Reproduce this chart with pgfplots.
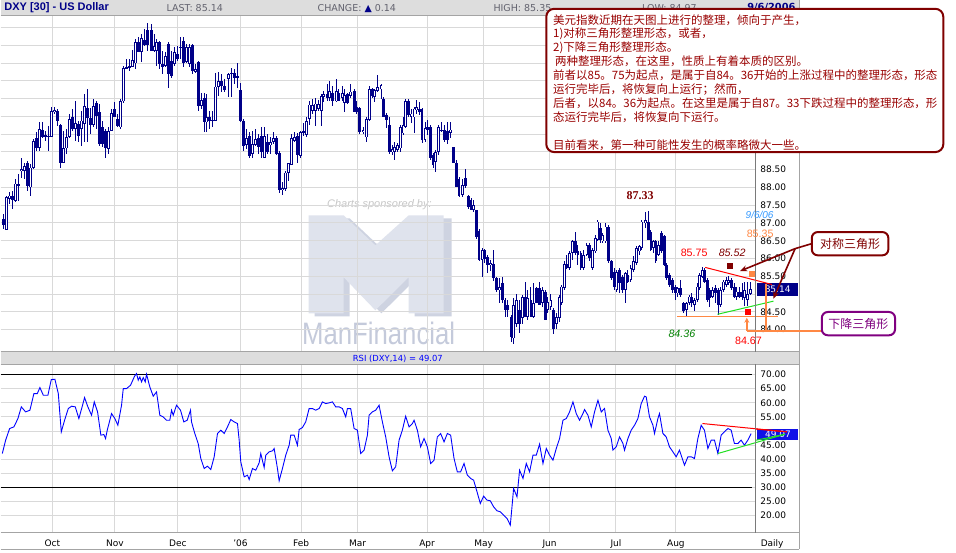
\documentclass[border=0pt]{standalone}
\usepackage{pgfplots}
\pgfplotsset{compat=1.18}
\usepackage{pgfplotstable}
\usepackage{fontspec}
\setmainfont{DejaVu Sans}
\newfontfamily\arialf{Liberation Sans}
\newfontfamily\timesf{Liberation Serif}
\newfontfamily\cjk{Noto Sans CJK SC}
\usetikzlibrary{arrows.meta}

\definecolor{navy}{HTML}{000088}
\definecolor{gridc}{HTML}{D9D9D9}
\definecolor{band}{HTML}{DDDDDD}
\definecolor{framec}{HTML}{A4A4A4}
\definecolor{axc}{HTML}{7A7A7A}
\definecolor{maroon}{HTML}{800000}
\definecolor{txtred}{HTML}{990000}
\definecolor{orng}{HTML}{FF8844}
\definecolor{lgreen}{HTML}{22E022}
\definecolor{purp}{HTML}{800080}
\definecolor{wm}{HTML}{DFE3ED}
\definecolor{wmshade}{HTML}{CED3E1}
\definecolor{wmtext}{HTML}{C4CADB}
\definecolor{hdrgray}{HTML}{62626E}
\definecolor{rsiblue}{HTML}{0000FF}
\definecolor{rsibox}{HTML}{1010E8}
\definecolor{skyblue}{HTML}{3399FF}

% daily candles: x = pixel position, open high low close
\pgfplotstableread{
x o h l c
2.7 87.11 87.25 86.83 86.95
5.7 86.80 87.76 86.79 87.74
9.0 87.67 87.86 87.53 87.77
11.7 87.77 87.91 87.39 87.65
15.0 87.63 88.24 87.58 88.11
17.7 88.11 88.38 87.63 88.05
21.0 88.47 88.84 88.28 88.52
23.7 88.47 88.70 88.24 88.61
26.7 88.70 88.75 87.91 88.05
30.0 88.00 88.66 87.77 88.56
33.0 88.54 89.36 88.52 89.30
35.7 89.39 89.55 89.03 89.11
39.0 89.11 89.83 89.03 89.64
41.7 89.61 89.83 89.39 89.41
44.7 89.48 89.59 89.31 89.43
47.7 89.43 89.74 89.03 89.45
50.7 89.43 90.27 89.41 90.14
53.7 90.13 90.27 90.06 90.18
56.7 90.14 90.20 89.74 89.88
60.0 89.75 89.78 88.56 88.70
63.3 88.70 89.59 88.70 89.10
66.0 89.10 89.64 88.94 89.43
69.0 89.43 90.06 89.39 89.92
72.0 89.97 90.20 89.59 89.64
75.0 89.64 90.44 89.31 89.80
78.0 89.78 89.88 89.27 89.45
81.0 89.64 90.16 89.17 89.88
83.7 89.78 90.63 89.27 90.30
86.7 90.25 90.77 89.27 89.95
90.0 89.95 90.25 89.50 89.75
93.0 89.75 90.48 89.69 90.30
96.0 90.39 90.44 89.64 90.02
99.0 90.11 90.34 89.17 89.22
102.0 89.69 89.88 89.13 89.22
105.0 89.59 89.64 88.84 89.10
108.0 89.08 89.69 88.94 89.59
111.0 89.59 90.20 89.59 90.09
114.0 90.20 90.39 89.97 89.97
117.0 89.92 90.06 89.69 89.74
120.0 89.69 90.48 89.64 90.42
123.3 90.42 91.42 90.39 91.36
126.3 91.36 91.61 91.33 91.39
129.3 91.38 91.61 91.28 91.42
132.3 91.39 91.86 91.38 91.58
135.0 91.49 92.17 91.33 92.08
137.7 92.08 92.22 91.80 91.82
141.3 91.82 92.31 91.52 92.20
144.3 92.14 92.45 91.98 92.01
147.3 92.43 92.64 91.84 92.01
150.7 92.43 92.59 91.83 91.84
153.7 91.84 92.31 91.80 91.98
156.3 91.84 92.17 91.42 92.08
159.3 92.08 92.13 91.33 91.47
162.3 91.47 91.84 91.19 91.38
165.3 91.42 91.80 91.38 91.70
168.0 92.05 92.08 90.81 91.19
171.0 91.56 91.84 91.09 91.14
174.0 91.47 91.94 91.42 91.80
177.0 91.75 91.98 91.56 91.61
180.0 91.92 92.22 91.61 91.96
183.0 92.11 92.22 91.38 91.49
186.0 91.52 92.03 91.49 91.94
189.0 91.47 92.05 91.40 91.94
191.7 92.00 92.03 91.19 91.28
195.0 91.26 91.47 91.23 91.33
198.3 91.52 91.56 90.16 90.30
200.7 90.30 90.67 90.20 90.46
203.7 90.51 90.67 89.55 89.83
206.3 89.83 90.63 89.55 89.97
209.3 89.97 90.16 89.64 89.88
212.0 89.88 90.16 89.69 89.90
215.3 89.88 91.23 89.88 90.84
218.3 90.84 91.26 90.58 91.00
221.0 91.00 91.19 90.70 90.86
224.0 90.86 91.05 90.70 90.74
228.0 91.05 91.21 90.54 91.19
231.0 91.19 91.35 90.54 91.23
234.0 91.21 91.33 90.91 91.09
237.0 91.14 91.49 90.79 91.07
240.3 90.74 90.95 89.83 89.86
243.3 89.88 89.93 89.03 89.17
246.0 89.20 89.64 89.08 89.39
249.0 89.45 89.55 88.84 88.89
251.7 88.94 89.59 88.84 89.22
255.0 89.20 89.64 89.17 89.36
257.7 89.39 89.50 88.94 89.13
260.7 89.45 89.69 88.84 88.99
263.7 88.84 89.69 88.82 89.45
266.7 89.27 89.50 88.94 89.00
269.7 89.20 89.41 88.94 89.27
273.0 89.27 89.55 89.22 89.39
276.0 89.39 89.45 88.92 88.94
279.3 88.98 89.03 87.84 87.93
282.3 87.93 88.14 87.80 87.98
285.0 87.95 88.47 87.89 88.42
287.7 88.42 88.70 88.19 88.68
290.7 88.63 89.50 88.63 89.39
293.7 89.31 89.57 89.27 89.43
297.0 89.45 89.52 88.70 88.92
299.7 88.89 89.60 88.84 89.55
302.7 89.55 89.80 89.45 89.58
305.7 89.48 89.97 89.43 89.88
308.7 89.92 90.44 89.77 90.33
311.7 90.16 90.48 90.06 90.33
314.7 90.16 90.53 89.73 90.36
317.7 90.20 90.46 90.16 90.34
320.7 90.16 90.64 89.73 90.58
323.3 90.55 90.72 90.39 90.63
326.7 90.63 90.91 90.44 90.51
329.3 90.51 91.00 90.42 90.72
332.3 90.65 90.86 90.30 90.44
335.7 90.42 91.05 90.39 90.72
338.3 90.67 90.77 90.42 90.42
341.7 90.51 90.86 90.44 90.65
344.3 90.39 90.77 90.11 90.60
347.3 90.62 90.67 90.34 90.39
350.3 90.58 90.91 90.53 90.70
353.7 90.72 90.77 90.11 90.11
356.3 90.25 90.44 90.06 90.11
359.0 90.23 90.27 89.50 89.55
362.7 89.55 89.69 89.50 89.61
366.0 89.41 89.97 89.27 89.92
369.0 89.90 90.86 89.87 90.77
372.3 90.77 90.79 90.53 90.56
374.3 90.55 90.78 90.40 90.74
377.3 90.72 91.16 90.69 90.83
380.7 90.76 90.92 90.50 90.88
383.3 90.50 90.55 89.97 89.99
386.3 90.03 90.10 89.66 89.89
389.3 89.75 89.99 88.95 89.00
392.0 89.00 89.19 88.91 89.07
394.3 89.00 89.28 88.76 89.14
397.3 89.05 89.24 89.00 89.19
400.0 89.10 89.75 89.00 89.71
402.7 89.52 89.99 89.47 89.75
405.3 89.71 90.50 89.66 90.44
408.0 90.44 90.50 89.97 90.03
410.7 89.99 90.22 89.80 90.08
413.7 89.97 90.25 89.52 90.22
416.3 90.17 90.46 90.08 90.25
419.3 90.22 90.41 90.03 90.13
421.7 90.22 90.25 89.26 89.33
424.7 89.33 89.85 89.28 89.66
427.3 89.71 89.89 89.47 89.61
430.0 89.69 89.75 88.76 88.82
432.7 88.91 88.96 88.54 88.63
435.3 88.72 89.05 88.44 89.00
438.3 89.00 89.75 88.91 89.69
441.0 89.59 89.85 89.56 89.63
444.0 89.63 89.75 89.28 89.33
447.0 89.59 89.85 89.22 89.33
450.0 89.54 89.85 89.38 89.63
453.3 89.14 89.15 88.68 88.68
456.0 88.70 88.77 88.02 88.02
458.7 88.25 88.30 87.74 87.76
462.0 87.79 88.25 87.74 88.07
465.0 88.28 88.53 87.99 88.04
468.0 87.76 87.79 87.40 87.46
470.7 87.64 87.69 87.36 87.36
473.3 87.36 87.64 87.30 87.50
476.0 87.36 87.38 86.56 86.61
478.7 86.78 86.83 85.92 85.96
481.7 85.96 86.29 85.49 86.24
484.3 86.24 86.26 85.86 86.00
487.3 86.05 86.09 85.60 85.82
490.3 85.82 85.96 85.66 85.88
493.0 85.86 86.24 85.38 85.44
496.0 85.44 85.48 85.06 85.11
499.0 85.11 85.44 84.74 85.20
502.0 85.30 85.48 84.74 84.83
504.7 84.83 84.88 84.36 84.55
507.3 84.69 84.83 84.36 84.55
510.7 84.36 84.40 83.64 83.80
513.3 83.75 84.88 83.60 84.69
516.3 84.17 85.01 84.08 84.83
519.3 84.55 84.83 83.89 84.17
522.0 84.32 84.97 84.17 84.92
525.0 84.92 85.35 84.36 84.36
527.7 84.36 85.11 84.27 84.88
530.7 84.83 85.20 84.36 84.36
533.3 84.36 85.30 84.32 84.74
536.0 85.16 85.20 84.74 84.74
539.3 85.16 85.35 84.69 84.69
542.0 84.74 85.20 84.64 85.11
545.0 85.07 85.11 84.27 84.27
547.7 84.55 84.92 84.46 84.78
550.7 84.64 85.01 84.55 84.83
553.3 84.55 84.60 83.89 84.03
556.3 84.17 84.46 84.03 84.36
559.0 84.32 84.97 84.22 84.92
561.0 84.74 85.26 84.70 85.21
564.0 85.17 85.92 85.12 85.85
566.7 85.85 86.10 85.70 85.73
569.3 85.73 86.20 85.68 86.15
572.3 86.15 86.53 85.96 86.48
575.0 86.48 86.76 86.10 86.15
577.7 86.20 86.38 85.82 86.10
580.7 86.15 86.20 85.68 85.73
583.3 85.73 86.24 85.68 86.10
586.7 86.10 86.43 86.06 86.38
589.3 86.38 86.43 85.92 86.01
592.0 85.73 86.29 85.68 86.24
595.0 86.20 86.67 86.15 86.57
597.7 86.53 87.09 86.48 87.04
600.0 86.85 86.99 86.43 86.53
602.7 86.48 86.71 86.43 86.67
605.7 86.48 86.99 86.43 86.90
608.3 86.90 86.95 85.87 85.92
611.0 85.92 85.96 85.40 85.45
614.0 85.63 85.73 85.12 85.21
616.7 85.12 85.68 85.07 85.63
619.3 85.68 85.73 85.02 85.31
622.3 85.49 85.54 85.02 85.12
625.0 85.12 85.63 84.74 85.59
627.7 85.54 85.68 85.31 85.35
630.7 85.40 85.82 85.35 85.73
633.3 85.68 86.06 85.63 85.92
636.0 85.87 86.34 85.82 86.29
639.0 86.20 86.38 86.10 86.34
641.7 86.29 87.09 86.24 87.04
645.0 86.99 87.32 86.85 87.09
648.0 87.04 87.35 86.53 86.53
650.7 86.76 86.81 86.20 86.24
653.3 86.29 86.53 86.15 86.48
655.7 86.48 86.53 85.87 85.92
658.3 86.10 86.48 86.06 86.38
661.0 86.71 86.76 86.15 86.20
664.0 86.62 86.67 85.78 85.82
666.7 85.82 85.87 85.40 85.45
669.7 85.54 85.59 85.21 85.26
672.3 85.40 85.45 85.02 85.12
675.0 85.21 85.26 84.84 85.02
677.7 85.02 85.21 84.93 85.17
680.3 85.17 85.40 84.93 84.98
683.3 84.74 84.79 84.46 84.51
686.0 84.55 84.79 84.37 84.74
689.0 84.74 84.98 84.70 84.93
691.7 84.93 85.02 84.65 84.74
694.3 84.70 84.89 84.51 84.84
697.0 84.84 85.31 84.79 85.21
699.3 85.17 85.59 85.12 85.54
702.0 85.49 85.75 85.45 85.68
704.3 85.68 85.73 85.31 85.35
707.0 85.40 85.45 84.79 84.84
709.7 85.12 85.17 84.65 84.89
712.3 84.93 85.21 84.89 85.12
715.0 85.17 85.26 84.74 85.02
718.0 85.12 85.17 84.42 84.70
720.7 84.70 85.21 84.65 85.12
723.3 85.12 85.40 85.07 85.35
726.0 85.26 85.49 85.21 85.40
728.7 85.31 85.52 85.26 85.40
731.3 85.40 85.45 85.12 85.17
734.0 85.21 85.31 84.89 84.93
736.7 84.93 85.21 84.84 85.07
739.3 85.07 85.21 84.89 84.93
742.0 85.07 85.31 84.84 84.93
744.7 84.89 85.35 84.67 85.12
747.7 84.84 85.35 84.67 85.00
750.3 85.00 85.35 84.97 85.14
}\ohlc

% RSI(14)
\pgfplotstableread{
x r
1.7 42.04
5.0 46.76
9.0 50.88
13.3 51.47
17.3 54.42
20.7 58.55
25.0 56.78
29.3 57.37
33.3 63.27
36.7 63.27
39.3 65.40
42.7 62.68
47.3 62.68
50.7 68.23
54.3 68.35
57.7 63.27
60.7 49.71
64.0 53.83
67.7 57.96
71.0 58.79
74.7 58.55
78.3 54.42
81.7 58.79
84.0 61.86
87.3 58.55
91.0 55.60
93.7 60.32
97.0 56.78
100.3 48.53
103.3 48.76
105.0 47.35
106.7 50.30
111.0 56.19
114.3 54.42
117.3 52.06
121.0 59.14
122.7 65.04
126.0 65.04
130.0 66.22
134.0 69.41
136.0 70.35
137.7 67.99
139.3 69.17
141.0 67.40
142.7 68.94
144.7 67.40
146.0 70.12
149.3 65.63
152.7 62.33
156.0 63.86
159.3 55.60
162.7 55.01
166.0 53.83
169.3 53.83
171.0 57.37
172.7 55.60
176.0 59.14
180.0 57.37
183.3 53.24
186.7 53.83
190.0 57.37
191.0 53.24
194.3 49.12
197.7 45.57
200.3 40.27
203.7 36.73
207.0 37.55
210.3 36.37
213.7 40.86
217.0 49.12
220.3 50.30
223.7 49.12
227.0 51.47
230.3 54.07
233.7 53.24
237.0 52.65
238.7 46.76
240.3 39.09
243.7 33.78
247.0 34.37
248.7 32.83
252.0 36.73
255.3 36.14
258.7 38.73
260.3 42.04
263.7 37.08
265.3 41.45
268.7 42.63
272.0 42.98
273.7 43.80
277.0 36.73
278.7 32.36
282.0 36.73
285.3 41.45
288.7 44.98
290.3 48.53
293.7 48.53
297.0 44.98
298.7 50.53
302.0 51.24
305.3 53.24
308.7 57.96
312.0 57.96
315.3 57.37
318.7 57.96
322.0 60.32
325.3 59.73
328.7 59.97
332.0 60.32
335.3 58.55
338.7 58.55
342.0 57.96
345.3 55.01
347.0 57.96
350.3 57.96
353.7 50.88
357.0 50.30
360.3 42.04
363.7 43.22
367.0 48.53
368.7 55.60
372.0 56.78
375.3 57.37
378.7 59.14
382.0 53.24
385.3 47.94
388.7 40.86
392.0 35.90
395.3 37.32
398.7 46.76
402.0 50.30
405.3 55.25
408.7 51.47
412.0 52.65
413.7 53.83
417.0 50.30
420.3 44.39
423.7 47.35
427.0 44.39
430.3 38.50
433.7 39.68
437.0 47.94
440.3 49.12
443.7 46.17
447.0 49.12
450.3 48.53
453.7 40.27
457.0 35.55
460.3 35.55
463.7 38.50
467.0 34.37
470.3 33.19
473.3 32.60
476.7 28.47
480.0 24.34
483.3 26.93
486.7 25.52
490.0 25.28
493.3 23.16
496.7 21.74
500.0 21.39
503.3 20.21
506.7 19.03
510.0 16.67
511.7 23.16
513.3 29.65
516.7 26.70
519.3 36.14
522.7 33.19
526.0 38.50
529.3 35.55
532.7 41.45
536.0 41.45
539.3 45.34
542.7 38.50
546.0 43.80
549.3 41.45
552.7 39.68
556.0 43.80
559.3 47.35
562.7 53.83
566.0 54.42
569.3 56.78
572.7 60.32
576.0 56.19
579.3 53.83
582.7 56.19
584.3 57.61
587.7 55.60
591.0 51.47
594.3 56.78
597.7 60.91
601.0 56.78
604.3 57.96
607.7 50.30
611.0 47.35
612.7 43.22
616.0 44.39
619.3 47.94
622.7 45.57
624.3 43.22
627.7 47.35
631.0 50.30
634.3 52.06
637.7 54.42
641.0 59.73
644.3 62.33
646.0 62.09
649.3 55.01
652.7 52.06
654.3 49.12
657.7 54.42
659.3 56.19
662.7 49.12
666.0 47.94
669.3 44.39
672.7 42.63
676.0 40.86
679.3 43.22
684.3 37.91
687.7 40.86
691.0 40.86
694.3 40.27
697.7 47.35
701.0 52.06
704.3 50.30
707.7 43.80
711.0 46.76
714.3 46.76
717.7 42.04
721.0 48.53
724.3 49.71
727.7 50.88
731.0 50.30
734.3 45.57
737.7 45.57
741.0 46.76
744.3 44.98
747.7 46.76
751.0 49.07
}\rsi

\pgfplotsset{
  chartax/.style={
    scale only axis, clip=false, width=755.5pt,
    xmin=0, xmax=755.5,
    xtick={51.7,114.3,177.3,240,300.7,357.3,426.7,483.3,549.3,615.7,675.7},
    axis line style={draw=none}, major tick length=0pt,
    grid=major, grid style={gridc, line width=1pt},
    yticklabel pos=right,
    yticklabel style={anchor=west, inner sep=0pt, xshift=4.5pt},
    ticklabel style={font=\fontsize{9}{10}\selectfont, text=black},
    /pgf/number format/assume math mode=true,
  },
  % a candle part is a vertical error bar; the plot itself draws nothing
  candle/.style={draw=none, mark=none, forget plot,
    error bars/.cd, y dir=both, y explicit, error mark=none,
    error bar style={#1}},
}

\begin{document}
\begin{tikzpicture}
\begin{scope}[x=1pt,y=-1pt]
  \path[use as bounding box] (0,0) rectangle (956,550);
  \fill[white] (0,0) rectangle (956,550);
  \fill[band] (0,0) rectangle (799.3,15);
  \fill[band] (0,351.7) rectangle (799.3,364);
  % sponsor watermark
  \fill[wmshade] (314.3,218) -- (349.3,218) -- (381,248) -- (414.3,218) -- (451.3,218) -- (451.3,316) -- (414.3,316)
    -- (414.3,280) -- (381,313) -- (349.3,280) -- (349.3,316) -- (314.3,316) -- cycle;
  \fill[wm] (308.3,215) -- (343.3,215) -- (375,245) -- (408.3,215) -- (443.3,215) -- (443.3,313) -- (408.3,313)
    -- (408.3,277) -- (375,310) -- (343.3,277) -- (343.3,313) -- (308.3,313) -- cycle;
  \node[text=wmtext, font=\arialf\fontsize{31}{31}\selectfont] at (378.3,333) {\scalebox{0.83}[1]{ManFinancial}};
  \node[text=black!22, font=\arialf\itshape\fontsize{11}{12}\selectfont] at (379,204.3) {Charts sponsored by:};
  % last value boxes
  \fill[navy] (757,283) rectangle (798,295.5);
  \node[white, font=\fontsize{9}{10}\selectfont] at (777.5,289.3) {85.14};
  \fill[rsibox] (757.3,428.3) rectangle (798.3,439.3);
  \node[white, font=\fontsize{9}{10}\selectfont] at (777.8,433.8) {49.07};
\end{scope}

% price panel
\begin{axis}[chartax, at={(0pt,-351.7pt)}, anchor=south west, height=335.7pt,
  ymin=83.37, ymax=92.81,
  ytick={84,84.5,...,92.5},
  yticklabels={84.00,84.50,,85.50,86.00,86.50,87.00,87.50,88.00,88.50,,,,,,,,},
  xticklabels={}]
  \addplot[candle={draw=navy, line width=1pt}] table[x=x, y expr={(\thisrow{h}+\thisrow{l})/2},
    y error expr={(\thisrow{h}-\thisrow{l})/2}] {\ohlc};
  \addplot[candle={draw=navy, line width=2.8pt}] table[x=x, y expr={(\thisrow{o}+\thisrow{c})/2},
    y error expr={max(abs(\thisrow{c}-\thisrow{o})/2,0.015)}] {\ohlc};
  \addplot[candle={draw=white, line width=1pt}] table[x=x, y expr={(\thisrow{o}+\thisrow{c})/2},
    y error expr={(\thisrow{c}>\thisrow{o})*max(abs(\thisrow{c}-\thisrow{o})/2-0.024,0)}] {\ohlc};
  % triangle lines
  \addplot[red, line width=1pt] coordinates {(705,85.75) (771.7,85.27)};
  \addplot[lgreen, line width=1pt] coordinates {(717.3,84.43) (773.3,84.80)};
  \addplot[orng, line width=1.3pt] coordinates {(676.7,84.36) (778.3,84.36)};
  \addplot[only marks, mark=square*, mark size=2.5pt, maroon] coordinates {(729.3,85.80)};
  \addplot[only marks, mark=square*, mark size=2.5pt, orng] coordinates {(751.7,85.57)};
  \addplot[only marks, mark=square*, mark size=2.5pt, red] coordinates {(747.3,84.51)};
\end{axis}

% RSI panel
\begin{axis}[chartax, at={(0pt,-532.7pt)}, anchor=south west, height=168.7pt,
  ymin=13.93, ymax=73.65,
  ytick={20,25,...,70},
  yticklabels={20.00,25.00,30.00,35.00,40.00,45.00,,55.00,60.00,65.00,70.00},
  xticklabels={Oct,Nov,Dec,'06,Feb,Mar,Apr,May,Jun,Jul,Aug},
  xticklabel style={anchor=base, yshift=-14pt}]
  \addplot[black, line width=1pt] coordinates {(0,70) (751.7,70)};
  \addplot[black, line width=1pt] coordinates {(0,30) (751.7,30)};
  \addplot[rsiblue, line width=0.9pt] table[x=x, y=r] {\rsi};
  \addplot[red, line width=1pt] coordinates {(702.3,52.65) (786.7,49.71)};
  \addplot[lgreen, line width=1pt] coordinates {(717.7,42.04) (785,48.88)};
\end{axis}

\begin{scope}[x=1pt,y=-1pt]
  % frame
  \draw[framec, line width=1pt] (0,15.5) -- (799.3,15.5);
  \draw[framec, line width=1pt] (0,351.7) -- (799.3,351.7) (0,364) -- (799.3,364);
  \draw[framec, line width=1pt] (0,532.7) -- (799.3,532.7) (0,549) -- (799.3,549);
  \draw[framec, line width=1pt] (799.3,0) -- (799.3,549);
  \draw[axc, line width=1pt] (755.5,15.5) -- (755.5,351.7) (755.5,364) -- (755.5,532.7);
  % header
  \node[anchor=west, inner sep=0, text=navy, font=\arialf\bfseries\fontsize{11}{12}\selectfont] at (3.6,7.5) {DXY [30] - US Dollar};
  \begin{scope}[every node/.style={anchor=west, inner sep=0, text=hdrgray, font=\fontsize{9.5}{11}\selectfont}]
    \node at (166,7.8) {LAST: 85.14};
    \node at (317,7.8) {CHANGE: {\color{navy}▲} 0.14};
    \node at (493,7.8) {HIGH: 85.35};
    \node at (641.7,7.8) {LOW: 84.97};
  \end{scope}
  \node[anchor=west, inner sep=0, text=navy, font=\bfseries\fontsize{9.8}{11}\selectfont] at (747,6.8) {9/6/2006};
  \node[text=rsiblue, font=\fontsize{8.4}{10}\selectfont] at (397.5,358.3) {RSI (DXY,14) = 49.07};
  \node[font=\fontsize{9}{10}\selectfont] at (772,543.5) {Daily};
  % price annotations
  \node[text=maroon, font=\timesf\bfseries\fontsize{12}{13}\selectfont] at (640,195) {87.33};
  \node[text=skyblue, font=\arialf\itshape\fontsize{10}{11}\selectfont] at (759.5,215) {9/6/06};
  \node[text=orng, font=\arialf\fontsize{10.7}{12}\selectfont] at (760,233.3) {85.35};
  \node[text=red, font=\arialf\fontsize{10.7}{12}\selectfont] at (694,252.7) {85.75};
  \node[text=maroon, font=\arialf\itshape\fontsize{10.7}{12}\selectfont] at (732,252.7) {85.52};
  \node[text=green!50!black, font=\arialf\itshape\fontsize{10.7}{12}\selectfont] at (681.7,333.3) {84.36};
  \node[text=red, font=\arialf\fontsize{10.7}{12}\selectfont] at (748.3,341) {84.67};
  % RSI triangle lines over the value box
  \draw[red, line width=1pt] (755.5,428.8) -- (786.7,431.6);
  \draw[lgreen, line width=1pt] (755.5,440.1) -- (785,434);
  % callouts
  \draw[orng, line width=2pt] (765.7,284) -- (765.7,330.7);
  \draw[orng, line width=2pt] (746.7,330.7) -- (821.7,330.7);
  \draw[orng, line width=1.6pt, -{Stealth[length=5pt,width=5pt]}] (746.7,330.7) -- (746.7,317.5);
  \draw[maroon, line width=1.6pt] (811.7,243.3) -- (795,248.3);
  \draw[maroon, line width=1.6pt, -{Stealth[length=7pt,width=6pt]}] (795,248.3) -- (740,270.7);
  \draw[maroon, line width=1.6pt, -{Stealth[length=7pt,width=6pt]}] (795,248.3) -- (773.3,298.3);
  \draw[maroon, line width=2pt, fill=white, rounded corners=6pt] (811.7,231.7) rectangle (888.3,255);
  \node[text=maroon, font=\cjk\fontsize{12}{13}\selectfont] at (850,243.3) {对称三角形};
  \draw[purp, line width=2pt, fill=white, rounded corners=6pt] (821.7,311.7) rectangle (895,335);
  \node[text=purp, font=\cjk\fontsize{12}{13}\selectfont] at (858.3,323.3) {下降三角形};
  % comment box
  \draw[maroon, line width=2pt, fill=white, rounded corners=8pt] (546,8.3) rectangle (943.3,151.7);
  \begin{scope}[every node/.style={anchor=west, inner sep=0, text=txtred, font=\cjk\fontsize{11.5}{13}\selectfont}]
    \node at (552.7,19.3) {美元指数近期在天图上进行的整理，倾向于产生，};
    \node at (552.7,33.25) {1)对称三角形整理形态，或者，};
    \node at (552.7,47.2) {2)下降三角形整理形态。};
    \node at (554.7,61.15) {两种整理形态，在这里，性质上有着本质的区别。};
    \node at (552.7,75.1) {前者以85。75为起点，是属于自84。36开始的上涨过程中的整理形态，形态};
    \node at (552.7,89.05) {运行完毕后，将恢复向上运行；然而，};
    \node at (552.7,103) {后者，以84。36为起点。在这里是属于自87。33下跌过程中的整理形态，形};
    \node at (552.7,116.95) {态运行完毕后，将恢复向下运行。};
    \node at (552.7,144.85) {目前看来，第一种可能性发生的概率略微大一些。};
  \end{scope}
\end{scope}
\end{tikzpicture}
\end{document}
